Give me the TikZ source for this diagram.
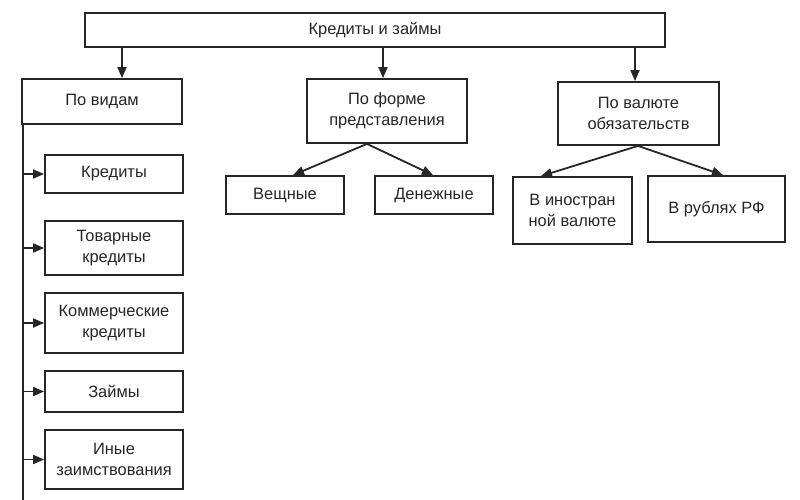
\documentclass[tikz,border=0pt]{standalone}
\usepackage{fontspec}
\setmainfont{Liberation Sans}
\usetikzlibrary{arrows.meta}
\begin{document}
\begin{tikzpicture}[x=1bp,y=-1bp,
 box/.style={draw=black!85, line width=1.8bp, align=center, text=black!85, font=\fontsize{16.5}{21}\selectfont, inner sep=0pt},
 arr/.style={draw=black!85, line width=1.8bp, -{Triangle[length=11bp,width=9bp]}}]
\useasboundingbox (0,0) rectangle (800,500);
\node[box, minimum width=580bp, minimum height=34bp] (top) at (375,30) {Кредиты и займы};
% column 1
\node[box, minimum width=160bp, minimum height=45bp] (vid) at (102,101.5) {По видам};
\node[box, minimum width=138bp, minimum height=38bp] (kred) at (114,174) {Кредиты};
\node[box, minimum width=138bp, minimum height=54bp] (tov) at (114,248) {Товарные\\кредиты};
\node[box, minimum width=138bp, minimum height=60bp] (kom) at (114,323) {Коммерческие\\кредиты};
\node[box, minimum width=138bp, minimum height=41bp] (zaim) at (114,391.5) {Займы};
\node[box, minimum width=138bp, minimum height=59bp] (inye) at (114,459.5) {Иные\\заимствования};
% column 2
\node[box, minimum width=160bp, minimum height=64bp] (form) at (387,111) {По форме\\представления};
\node[box, minimum width=118bp, minimum height=38bp] (vesh) at (285,195) {Вещные};
\node[box, minimum width=118bp, minimum height=38bp] (den) at (434,195) {Денежные};
% column 3
\node[box, minimum width=161bp, minimum height=63bp] (val) at (638.5,113.5) {По валюте\\обязательств};
\node[box, minimum width=119bp, minimum height=67bp] (inos) at (572.5,210.5) {В иностран\\ной валюте};
\node[box, minimum width=137bp, minimum height=66bp] (rub) at (716.5,209) {В рублях РФ};
% helper coordinates
\coordinate (a1) at (122,0);
\coordinate (a2) at (383,0);
\coordinate (a3) at (635,0);
\coordinate (lx) at (23,500);
\coordinate (fp) at (367,0);
\coordinate (vp) at (638,0);
\coordinate (t1) at (293,0);
\coordinate (t2) at (433,0);
\coordinate (t3) at (541,0);
\coordinate (t4) at (723,0);
% arrows from top
\draw[arr] (a1 |- top.south) -- (a1 |- vid.north);
\draw[arr] (a2 |- top.south) -- (a2 |- form.north);
\draw[arr] (a3 |- top.south) -- (a3 |- val.north);
% left spine
\draw[draw=black!85, line width=1.8bp] (lx |- vid.south) -- (lx);
\foreach \n in {kred,tov,kom,zaim,inye}
  \draw[arr] (lx |- \n.west) -- (\n.west);
% diagonals
\draw[arr] (fp |- form.south) -- (t1 |- vesh.north);
\draw[arr] (fp |- form.south) -- (t2 |- den.north);
\draw[arr] (vp |- val.south) -- (t3 |- inos.north);
\draw[arr] (vp |- val.south) -- (t4 |- rub.north);
\end{tikzpicture}
\end{document}
